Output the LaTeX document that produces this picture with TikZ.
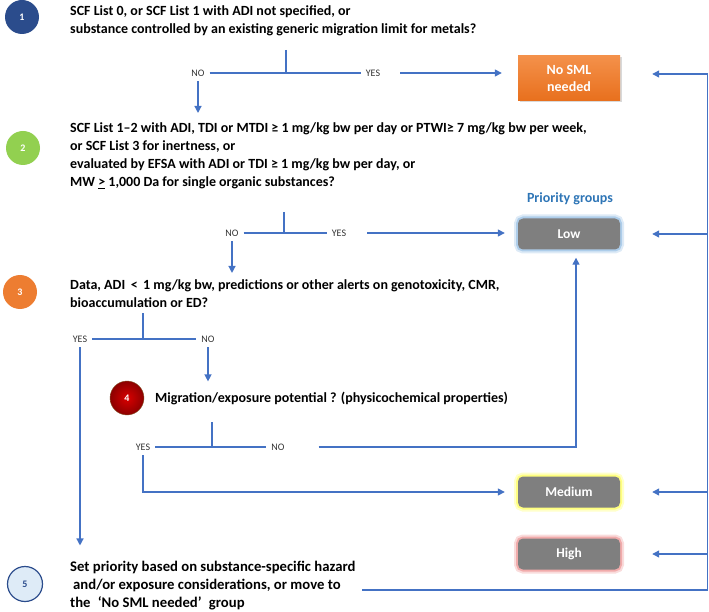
\documentclass[tikz,border=0pt]{standalone}
\usepackage{fontspec}
\setmainfont{Carlito}
\usepackage{tikz}
\usetikzlibrary{arrows.meta,calc,positioning,shadows}
\usepackage{xcolor}
\definecolor{lineblue}{HTML}{4472C4}
\definecolor{stepone}{HTML}{2B4C8C}
\definecolor{steptwo}{HTML}{92D050}
\definecolor{stepthree}{HTML}{ED7D31}
\definecolor{stepfour}{HTML}{B80C0C}
\definecolor{stepfive}{HTML}{DEEBF7}
\definecolor{boxgray}{HTML}{7F7F7F}
\definecolor{nosmltop}{HTML}{F4914A}
\definecolor{nosmlbot}{HTML}{E8701E}
\definecolor{prioblue}{HTML}{2E75B6}
\definecolor{lowglow}{HTML}{9DC3E6}
\definecolor{medglow}{HTML}{FFFF66}
\definecolor{highglow}{HTML}{EE9A9A}

\tikzset{
	num/.style={circle, minimum size=34pt, inner sep=0pt, text=white, font=\bfseries\fontsize{10}{10}\selectfont},
	quest/.style={anchor=base west, align=left, inner sep=0pt, font=\bfseries\fontsize{14}{18}\selectfont},
	yn/.style={font=\fontsize{10}{10}\selectfont, text=black!80, inner sep=5pt},
	link/.style={draw=lineblue, line width=1.3pt},
	arr/.style={link, -{Triangle[length=7pt,width=7pt]}},
	back/.style={arr, shorten >=32pt},
	grp/.style={rounded corners=5pt, fill=boxgray, text=white, font=\bfseries\fontsize{13.5}{13.5}\selectfont, minimum width=102pt, minimum height=31pt},
	glow/.style={preaction={draw=#1, draw opacity=.35, line width=8pt}, preaction={draw=#1, draw opacity=.75, line width=4pt}},
	nosmlbox/.style={top color=nosmltop, bottom color=nosmlbot, text=white, align=center, font=\bfseries\fontsize{14}{17}\selectfont, minimum width=102pt, minimum height=45pt, drop shadow={opacity=.3, shadow xshift=1.5pt, shadow yshift=-1.5pt}},
}

\begin{document}
\begin{tikzpicture}[x=1pt, y=-1pt]
	\useasboundingbox (0,0) rectangle (709,612);
	%%%%% step 1
	\node[num, fill=stepone] (n1) at (22,17) {1};
	\node[quest] (q1) at (70,34) {SCF List 0, or SCF List 1 with ADI not specified, or\\substance controlled by an existing generic migration limit for metals?};
	\node[yn] (no1) at (198,73) {NO};
	\node[yn] (yes1) at (373,73) {YES};
	\coordinate (j1) at (286,50);
	\node[nosmlbox] (nosml) at (569,78) {No SML\\needed};
	\draw[link] (no1) -- (yes1);
	\draw[link] (j1) -- (j1 |- no1);
	\draw[arr, shorten <=15pt, shorten >=16pt] (yes1) -- (yes1 -| nosml.west);
	%%%%% step 2
	\node[num, fill=steptwo] (n2) at (23,148) {2};
	\node[quest] (q2) at (70,187) {SCF List 1–2 with ADI, TDI or MTDI ≥ 1 mg/kg bw per day or PTWI≥ 7 mg/kg bw per week,\\or SCF List 3 for inertness, or\\evaluated by EFSA with ADI or TDI ≥ 1 mg/kg bw per day, or\\MW \underline{>} 1,000 Da for single organic substances?};
	\draw[arr, shorten >=10pt] (no1) -- (no1 |- q2.north);
	\node[text=prioblue, font=\bfseries\fontsize{14}{14}\selectfont] (prio) at (570,199) {Priority groups};
	\node[yn] (no2) at (232,233) {NO};
	\node[yn] (yes2) at (339,233) {YES};
	\coordinate (j2) at (284,212);
	\node[grp, glow=lowglow] (low) at (569,234) {Low};
	\draw[link] (no2) -- (yes2);
	\draw[link] (j2) -- (j2 |- no2);
	\draw[arr, shorten <=16pt, shorten >=13pt] (yes2) -- (yes2 -| low.west);
	%%%%% step 3
	\node[num, fill=stepthree] (n3) at (20,292) {3};
	\node[quest] (q3) at (70,307) {Data, ADI \,<\, 1 mg/kg bw, predictions or other alerts on genotoxicity, CMR,\\bioaccumulation or ED?};
	\draw[arr, shorten >=6pt] (no2) -- (no2 |- q3.north);
	\node[yn] (yes3) at (80,339) {YES};
	\node[yn] (no3) at (208,339) {NO};
	\coordinate (j3) at (143,313);
	\draw[link] (yes3) -- (no3);
	\draw[link] (j3) -- (j3 |- no3);
	%%%%% step 4
	\node[num, shading=radial, inner color=red!85!black, outer color=red!55!black, draw=brown!70!black, thin] (n4) at (127,398) {4};
	\node[quest] (q4) at (155,402) {Migration/exposure potential ? (physicochemical properties)};
	\draw[arr, shorten >=10pt] (no3) -- (no3 |- q4.north);
	\node[yn] (yes4) at (143,447) {YES};
	\node[yn] (no4) at (278,447) {NO};
	\coordinate (j4) at (212,422);
	\node[grp, glow=medglow] (medium) at (569,492) {Medium};
	\draw[link] (yes4) -- (no4);
	\draw[link] (j4) -- (j4 |- no4);
	\draw[arr, shorten <=29pt, shorten >=8pt] (no4) -| ([xshift=7pt]low.south);
	\draw[arr, shorten >=13pt] (yes4) |- (medium);
	%%%%% step 5
	\node[num, fill=stepfive, draw=stepone, line width=1.2pt, text=stepone, minimum size=35pt] (n5) at (25,584) {5};
	\node[quest, font=\bfseries\fontsize{14.7}{18}\selectfont] (q5) at (70,607) {Set priority based on substance-specific hazard\\\hspace{3pt}and/or exposure considerations, or move to\\the\hspace{4pt} ‘No SML needed’\hspace{4pt} group};
	\draw[arr, shorten >=15pt] (yes3) -- (yes3 |- q5.north);
	\node[grp, glow=highglow] (high) at (569,554) {High};
	%%%%% back to the groups
	\coordinate (b5) at (362,590);
	\coordinate (sb) at (707.5,590);
	\coordinate (st) at (707.5,74);
	\draw[link] (b5) -- (sb) -- (st);
	\draw[back] (st) -- (st -| nosml.east);
	\foreach \g in {low,medium,high}
		\draw[back] (\g.east -| st) -- (\g.east);
\end{tikzpicture}
\end{document}
